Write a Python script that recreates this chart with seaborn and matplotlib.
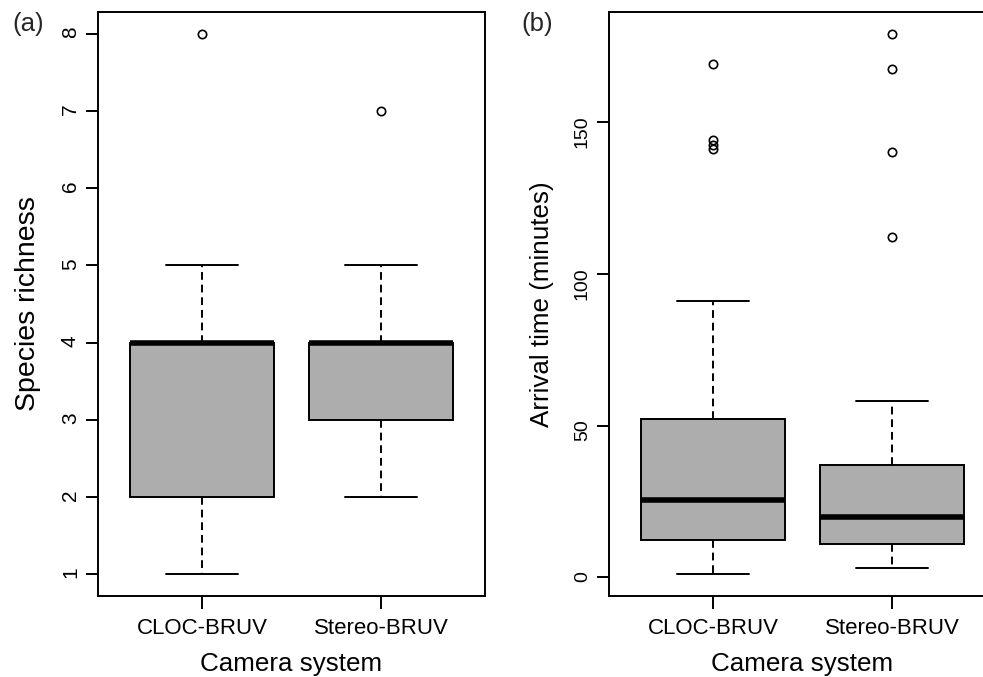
import pandas as pd
import numpy as np
import matplotlib
matplotlib.use("Agg")
import matplotlib.pyplot as plt
import seaborn as sns

sns.set_theme(style="ticks")
plt.rcParams["font.family"] = ["Liberation Sans", "DejaVu Sans"]
plt.rcParams["axes.linewidth"] = 1.4
plt.rcParams["axes.edgecolor"] = "black"

# values (box stats per camera system)
categories = ["CLOC-BRUV", "Stereo-BRUV"]

richness_low = [1, 2]
richness_q1 = [2, 3]
richness_med = [4, 4]
richness_q3 = [4, 4]
richness_high = [5, 5]
richness_out = [[8], [7]]

arrival_low = [1, 3]
arrival_q1 = [12.3, 11]
arrival_med = [25.5, 20]
arrival_q3 = [52.3, 37]
arrival_high = [91, 58]
arrival_out = [[141, 142.5, 144, 169], [112, 140, 167.5, 179]]


def build_table(low, q1, med, q3, high, out):
    # repeat the read values so the quartiles land exactly on them
    k = max(len(o) for o in out) + 1
    rows = []
    for i, cat in enumerate(categories):
        vals = ([low[i]] + [q1[i]] * k + [med[i]] * k + [q3[i]] * k
                + [high[i]] * (k - len(out[i])) + list(out[i]))
        rows += [(cat, v) for v in vals]
    return pd.DataFrame(rows, columns=["system", "value"])


df_rich = build_table(richness_low, richness_q1, richness_med, richness_q3, richness_high, richness_out)
df_arr = build_table(arrival_low, arrival_q1, arrival_med, arrival_q3, arrival_high, arrival_out)

W, H = 983, 677
fig = plt.figure(figsize=(W / 100, H / 100), dpi=100)
ax1 = fig.add_axes([98 / W, (H - 596) / H, 387 / W, 584 / H])
ax2 = fig.add_axes([609 / W, (H - 596) / H, 387 / W, 584 / H])

lw = 1.4
box_kws = dict(
    order=categories, color="#ADADAD", saturation=1, width=0.8, whis=1.5,
    linecolor="black", linewidth=lw,
    boxprops=dict(facecolor="#ADADAD", edgecolor="black", linewidth=lw),
    medianprops=dict(color="black", linewidth=4, solid_capstyle="butt"),
    whiskerprops=dict(color="black", linewidth=lw, linestyle=(0, (4, 2.5))),
    capprops=dict(color="black", linewidth=lw),
    flierprops=dict(marker="o", markerfacecolor="none", markeredgecolor="black",
                    markersize=6, markeredgewidth=1.2),
)

panels = [
    (ax1, df_rich, "Species richness", 20.5, 15, list(range(1, 9))),
    (ax2, df_arr, "Arrival time (minutes)", 18.7, 14, [0, 50, 100, 150]),
]
for ax, d, ylab, ysize, ytsize, yticks in panels:
    sns.boxplot(data=d, x="system", y="value", ax=ax, **box_kws)
    lo, hi = d["value"].min(), d["value"].max()
    pad = (hi - lo) * 0.04
    ax.set_ylim(lo - pad, hi + pad)
    ax.set_xlim(-0.58, 1.58)
    ax.set_yticks(yticks)
    ax.set_yticklabels([str(t) for t in yticks])
    ax.tick_params(axis="both", length=9, width=lw, color="black", labelcolor="black")
    ax.tick_params(axis="y", labelsize=ytsize, labelrotation=90, pad=4)
    ax.tick_params(axis="x", labelsize=16, pad=7)
    ax.set_xlabel("Camera system", fontsize=18.7, labelpad=9, color="black")
    ax.set_ylabel(ylab, fontsize=ysize, labelpad=14, color="black")
    for s in ax.spines.values():
        s.set_visible(True)
        s.set_linewidth(lw)
        s.set_color("black")

fig.text(12 / W, 1 - 24.5 / H, "(a)", fontsize=18.5, va="center", ha="left")
fig.text(521 / W, 1 - 24.5 / H, "(b)", fontsize=18.5, va="center", ha="left")

fig.savefig("out.png", dpi=100)
